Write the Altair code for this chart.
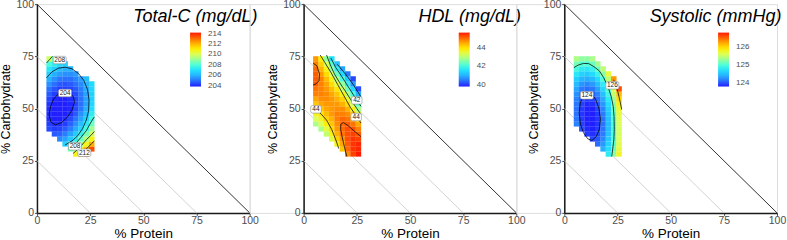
import altair as alt
import pandas as pd

# ---------------- data ----------------
P_CENTERS = [5.75, 8.25, 10.75, 13.25, 15.75, 18.25, 20.75, 23.25, 25.75]
C_CENTERS = [28.2, 30.6, 33.0, 35.4, 37.8, 40.2, 42.6, 45.0, 47.4, 49.8,
             52.2, 54.6, 57.0, 59.4, 61.8, 64.2, 66.6, 69.0, 71.4, 73.8]
N = None

# each inner list: one protein column, carbohydrate rows bottom -> top
TOTALC = [
    [N, N, N, N, N, 204.4, 204.2, 204.0, 204.0, 204.0, 204.1, 204.3, 204.6, 204.9, 205.4, 205.9, 206.5, 207.1, 207.9, 209.8],
    [N, N, N, N, 204.6, 204.2, 204.0, 203.8, 203.7, 203.7, 203.8, 203.9, 204.2, 204.5, 204.9, 205.4, 205.9, 206.6, 207.3, 208.3],
    [N, N, N, 205.3, 204.7, 204.3, 204.0, 203.8, 203.6, 203.6, 203.6, 203.8, 204.0, 204.2, 204.6, 205.0, 205.6, 206.2, 206.8, N],
    [N, N, 206.6, 205.7, 205.1, 204.6, 204.2, 204.0, 203.8, 203.7, 203.7, 203.8, 203.9, 204.2, 204.5, 204.9, 205.4, 205.9, 206.6, N],
    [N, 208.5, 207.3, 206.4, 205.7, 205.1, 204.7, 204.4, 204.1, 203.9, 203.9, 204.0, 204.1, 204.3, 204.6, 204.9, 205.4, 205.9, N, N],
    [210.8, 209.5, 208.3, 207.3, 206.5, 205.8, 205.4, 205.0, 204.6, 204.4, 204.3, 204.3, 204.4, 204.6, 204.9, 205.2, 205.6, N, N, N],
    [212.1, 210.6, 209.4, 208.3, 207.4, 206.7, 206.2, 205.7, 205.4, 205.0, 204.9, 204.9, 205.0, 205.1, 205.3, 205.6, N, N, N, N],
    [213.5, 212.0, 210.7, 209.5, 208.6, 207.8, 207.2, 206.7, 206.2, 205.9, 205.7, 205.7, 205.7, 205.8, 206.0, 206.2, N, N, N, N],
    [N, 213.5, 212.1, 210.9, 209.9, 209.1, 208.4, 207.8, 207.3, 206.9, 206.7, 206.6, 206.6, 206.7, 206.8, N, N, N, N, N],
]
HDL = [
    [N, N, N, N, N, N, 42.9, 43.3, 43.7, 44.0, 44.3, 44.6, 44.9, 45.0, 45.2, 45.2, 45.2, 45.1, 44.9, 44.7],
    [N, N, N, N, N, 42.9, 43.3, 43.7, 44.0, 44.3, 44.6, 44.8, 44.9, 44.9, 44.9, 44.9, 44.7, 44.5, 44.2, 43.9],
    [N, N, N, N, 43.1, 43.5, 43.9, 44.2, 44.4, 44.6, 44.7, 44.8, 44.8, 44.7, 44.6, 44.4, 44.1, 43.8, 43.3, 42.7],
    [N, N, N, 43.4, 43.8, 44.1, 44.3, 44.5, 44.7, 44.7, 44.7, 44.7, 44.6, 44.4, 44.1, 43.8, 43.3, 42.7, 42.2, 41.6],
    [N, N, 43.8, 44.2, 44.5, 44.7, 44.8, 44.9, 44.9, 44.8, 44.7, 44.5, 44.3, 44.0, 43.5, 43.0, 42.4, 41.8, 41.2, N],
    [N, 44.3, 44.6, 44.8, 45.0, 45.1, 45.1, 45.1, 44.9, 44.8, 44.5, 44.2, 43.8, 43.2, 42.7, 42.1, 41.5, 40.9, N, N],
    [44.8, 45.1, 45.2, 45.3, 45.3, 45.3, 45.2, 45.0, 44.8, 44.5, 44.1, 43.6, 43.0, 42.4, 41.8, 41.3, 40.5, N, N, N],
    [45.4, 45.5, 45.5, 45.5, 45.4, 45.3, 45.0, 44.7, 44.4, 43.8, 43.3, 42.7, 42.1, 41.5, 40.8, 40.1, N, N, N, N],
    [45.7, 45.6, 45.6, 45.4, 45.2, 44.9, 44.6, 44.0, 43.5, 42.9, 42.3, 41.7, 41.0, 40.2, N, N, N, N, N, N],
]
SYSTOLIC = [
    [N, N, N, N, N, N, 124.20, 124.15, 124.13, 124.13, 124.15, 124.20, 124.26, 124.35, 124.47, 124.60, 124.77, 124.95, 125.15, 125.38],
    [N, N, N, N, N, 123.99, 123.93, 123.90, 123.89, 123.90, 123.93, 123.98, 124.06, 124.16, 124.29, 124.43, 124.61, 124.80, 125.01, 125.26],
    [N, N, N, N, 123.91, 123.84, 123.79, 123.77, 123.77, 123.79, 123.83, 123.90, 123.98, 124.10, 124.23, 124.39, 124.57, 124.77, 125.00, 125.25],
    [N, N, N, 123.95, 123.87, 123.81, 123.78, 123.77, 123.77, 123.80, 123.86, 123.93, 124.03, 124.15, 124.30, 124.47, 124.66, 124.87, 125.11, 125.37],
    [N, N, 124.11, 124.02, 123.96, 123.91, 123.89, 123.89, 123.90, 123.95, 124.01, 124.10, 124.21, 124.34, 124.49, 124.67, 124.88, 125.10, 125.35, N],
    [N, 124.40, 124.30, 124.23, 124.17, 124.14, 124.13, 124.13, 124.16, 124.21, 124.29, 124.38, 124.50, 124.65, 124.81, 125.00, 125.22, 125.45, N, N],
    [124.81, 124.71, 124.62, 124.56, 124.51, 124.49, 124.49, 124.50, 124.54, 124.60, 124.69, 124.80, 124.93, 125.08, 125.26, 125.46, 125.68, N, N, N],
    [125.24, 125.14, 125.06, 125.01, 124.98, 124.96, 124.97, 125.00, 125.05, 125.12, 125.22, 125.33, 125.48, 125.64, 125.83, 126.30, N, N, N, N],
    [125.78, 125.70, 125.63, 125.59, 125.57, 125.56, 125.58, 125.62, 125.68, 125.76, 125.87, 126.00, 126.15, 126.60, N, N, N, N, N, N],
]

# contour lines (protein, carbohydrate)
TC_CONTOURS = {
    "204": [(5.7, 47), (6.4, 51), (7.8, 54.5), (10, 57), (13, 58), (15.5, 57.3), (17.2, 55.5), (17.6, 53),
            (16.6, 49.5), (14.4, 46), (11.6, 43.3), (8.7, 42.2), (6.6, 43.4), (5.7, 47)],
    "206": [(4.5, 64.7), (7, 67.5), (10, 69.3), (13.3, 69.8), (16.5, 69), (19.5, 66.8), (22, 63.5), (23.8, 59),
            (24.5, 54), (24.3, 49), (23.2, 44.5), (21.5, 40.5), (19.2, 37), (16.5, 34.5), (13.2, 32.5)],
    "208a": [(4.5, 71.8), (6, 73.5), (7.3, 75)],
    "208b": [(14.8, 30.7), (16.5, 31.8), (18.2, 33.2), (20.7, 36.2), (23.2, 39.4), (25.7, 44.0), (27, 46)],
    "210": [(17, 28.5), (18.3, 29.6), (20.7, 32), (23.2, 35), (25.7, 37.5), (27, 39)],
    "212": [(20, 27), (20.7, 28.3), (23.2, 30.6), (25.7, 33.2), (27, 34.5)],
}
TC_LABELS = [("208", 10.7, 73.2), ("204", 13.2, 57.4), ("208", 17.9, 31.9), ("212", 22.3, 28.8)]

HDL_CONTOURS = {
    "45a": [(4.5, 71.7), (6.2, 70.5), (7.5, 66.5), (7.2, 63.3), (5.8, 61.8), (4.5, 61.3)],
    "45b": [(20.3, 27), (19.2, 31.5), (18.2, 36), (17.4, 40), (17.5, 42.5), (18.7, 43.3), (21, 41.7), (24, 39), (27, 36.5)],
    "44a": [(4.5, 51), (6, 49.5), (8.3, 47.3), (10.8, 44.4), (13.2, 40), (15.5, 34), (16.5, 30.8)],
    "44b": [(7.8, 75.6), (10, 72), (13, 67), (16, 61.5), (19, 56), (22, 50.5), (25, 46), (27, 43)],
    "43": [(10.8, 75.6), (12.5, 71), (14.5, 66.5), (17, 62.3), (19.5, 58.5), (22, 54.5), (25, 50), (27, 47.2)],
    "42": [(12.8, 74.2), (15, 69.8), (17.5, 66), (20, 62), (22.5, 58), (25, 54), (27, 51)],
    "41": [(15.8, 71.2), (18.3, 68.2), (20.8, 65), (23.3, 61.5), (25.5, 58), (27, 55.5)],
}
HDL_LABELS = [("44", 5.8, 49.6), ("42", 25.0, 53.9), ("44", 24.7, 45.9)]

SYS_CONTOURS = {
    "124": [(7, 48), (7.5, 52.5), (8.8, 56), (10.8, 57.5), (12.8, 57), (14.7, 54.5), (16.3, 50), (17, 45),
            (16.5, 40), (15, 36.5), (13, 34.7), (11, 35.5), (9, 38.5), (7.6, 42.5), (7, 48)],
    "125": [(4.5, 69.6), (6.5, 70.8), (9, 71.6), (11.5, 71.5), (14, 70), (16.5, 68), (18.5, 64.8), (20.5, 60.5),
            (22, 56), (23, 51), (23.4, 46), (23.5, 40), (23.3, 35), (22.8, 31), (22.3, 27)],
    "126": [(23.2, 63.8), (24, 61.5), (25.2, 58), (26.2, 53.5), (27, 49.5)],
}
SYS_LABELS = [("124", 10.6, 56.3), ("126", 22.6, 61.1)]

AXIS_TICKS = [0, 25, 50, 75, 100]
GUIDE_LEVELS = [25, 50, 75]
EDGE_P = [0, 100]
EDGE_C = [100, 0]

JET = ["#1f1fff", "#2a6cff", "#26b0ff", "#22e0ff", "#4dffd9", "#99ff99",
       "#ddff55", "#ffee00", "#ffb000", "#ff6600", "#ff1a00"]
FONT = "Liberation Sans"
W, H = 213, 209


def make_panel(cols, lo, hi, legend_values, contours, labels, label_w, title, title_x, legend_x):
    cells = []
    for j, col in enumerate(cols):
        for i, v in enumerate(col):
            if v is None:
                continue
            p, c = P_CENTERS[j], C_CENTERS[i]
            cells.append({"p": p - 1.3, "p2": p + 1.3, "c": c - 1.25, "c2": c + 1.25, "v": v})
    cells = pd.DataFrame(cells)

    guides = pd.DataFrame([r for L in GUIDE_LEVELS for r in
                           ({"p": 0, "c": L, "g": L, "k": 0}, {"p": L, "c": 0, "g": L, "k": 1})])
    edge = pd.DataFrame({"p": EDGE_P, "c": EDGE_C, "k": [0, 1]})
    lines = pd.DataFrame([{"p": p, "c": c, "lid": name, "k": k}
                          for name, pts in contours.items() for k, (p, c) in enumerate(pts)])
    labs = pd.DataFrame([{"t": t, "p": p, "c": c} for t, p, c in labels])

    sx = alt.Scale(domain=[0, 100], nice=False, zero=False)
    sy = alt.Scale(domain=[0, 100], nice=False, zero=False)
    common = dict(values=AXIS_TICKS, grid=False, domainColor="#1a1a1a", domainWidth=1.5,
                  tickColor="#4d4d4d", tickSize=2.5, tickWidth=1, labelFontSize=10.5,
                  labelColor="#4d4d4d", labelFont=FONT, labelFlush=False,
                  titleFont=FONT, titleColor="black", titleFontWeight="normal")
    ax = alt.Axis(titlePadding=0, labelPadding=0.5, titleFontSize=13.5, **common)
    ay = alt.Axis(titlePadding=3, labelPadding=1, titleFontSize=12.5, **common)

    def X(f):
        return alt.X(f, type="quantitative", scale=sx, axis=ax, title="% Protein")

    def Y(f):
        return alt.Y(f, type="quantitative", scale=sy, axis=ay, title="% Carbohydrate")

    g_layer = alt.Chart(guides).mark_line(color="#c8c8c8", strokeWidth=0.8).encode(
        x=X("p"), y=Y("c"), detail="g:N", order="k:Q")
    heat = alt.Chart(cells).mark_rect().encode(
        x=X("p"), x2="p2", y=Y("c"), y2="c2",
        color=alt.Color("v:Q", scale=alt.Scale(domain=[lo, hi], range=JET, interpolate="rgb", clamp=True),
                        legend=alt.Legend(orient="none", legendX=legend_x, legendY=28.5, title=None,
                                          gradientLength=54, gradientThickness=11, values=legend_values,
                                          labelFontSize=8, labelColor="#4d4d4d", labelFont=FONT,
                                          labelOffset=7, gradientStrokeWidth=0, padding=0,
                                          direction="vertical")))
    e_layer = alt.Chart(edge).mark_line(color="#333333", strokeWidth=1).encode(
        x=X("p"), y=Y("c"), order="k:Q")
    c_layer = alt.Chart(lines).mark_line(color="black", strokeWidth=0.75).encode(
        x=X("p"), y=Y("c"), detail="lid:N", order="k:Q")
    box = alt.Chart(labs).mark_rect(width=label_w, height=7.5, fill="white", stroke="#8c8c8c",
                                    strokeWidth=0.6, cornerRadius=1.5).encode(x=X("p"), y=Y("c"))
    txt = alt.Chart(labs).mark_text(fontSize=6.5, font=FONT, color="#222222",
                                    align="center", baseline="middle").encode(x=X("p"), y=Y("c"), text="t:N")
    ttl = alt.Chart(pd.DataFrame({"t": [title]})).mark_text(
        align="right", baseline="alphabetic", fontSize=18, fontStyle="italic", font=FONT, color="black"
    ).encode(x=alt.value(title_x), y=alt.value(18), text="t:N")

    return alt.layer(g_layer, heat, e_layer, c_layer, box, txt, ttl).properties(width=W, height=H)


def spacer(w):
    return alt.Chart(pd.DataFrame({"s": [0]})).mark_point(opacity=0).encode(
        x=alt.X("s:Q", axis=None), y=alt.Y("s:Q", axis=None)).properties(width=w, height=H)


p1 = make_panel(TOTALC, 203.8, 214.2, [204, 206, 208, 210, 212, 214], TC_CONTOURS, TC_LABELS, 13,
                "Total-C (mg/dL)", 220.7, 153.3)
p2 = make_panel(HDL, 39.8, 45.7, [40, 42, 44], HDL_CONTOURS, HDL_LABELS, 10.5,
                "HDL (mg/dL)", 217.6, 155.3)
p3 = make_panel(SYSTOLIC, 123.8, 126.8, [124, 125, 126], SYS_CONTOURS, SYS_LABELS, 13,
                "Systolic (mmHg)", 217.4, 154)

chart = alt.hconcat(p1, spacer(53.7), p2, spacer(47.6), p3, spacing=0, bounds="flush").resolve_scale(
    x="independent", y="independent", color="independent"
).resolve_legend(color="independent").properties(
    padding={"left": -1, "top": -2, "right": 0, "bottom": 0}
).configure_view(strokeWidth=0).configure(font=FONT)

chart.save("out.html", embed_options={"renderer": "svg", "actions": False})
